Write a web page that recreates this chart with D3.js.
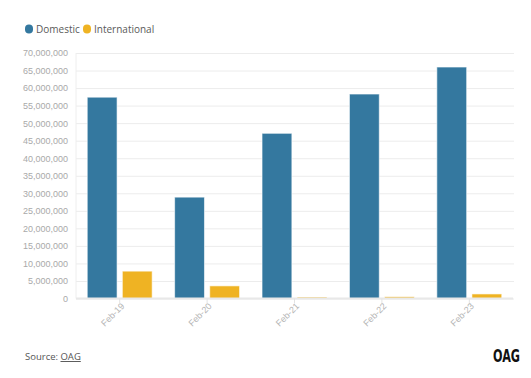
<!DOCTYPE html>
<html lang="en">
<head>
<meta charset="UTF-8">
<title>Passengers</title>
<script src="https://cdn.jsdelivr.net/npm/d3@7"></script>
<style>
    body{ margin:0; background:#fff; }
    svg{ display:block; font-family:"Open Sans", "Noto Sans", sans-serif; }
</style>
</head>
<body>
<div id="root"></div>
<script>
    // data
    let months = ["Feb-19","Feb-20","Feb-21","Feb-22","Feb-23"]
    let series = ["Domestic","International"]
    let domestic = [57400000, 28900000, 47100000, 58300000, 66000000]
    let international = [7800000, 3600000, 400000, 500000, 1300000]
    let yTicks = d3.range(0, 70000001, 5000000)
    let colors = ["#34789f", "#efb323"]

    let width = 531, height = 378
    let plotLeft = 76, plotRight = 513, plotTop = 53, plotBottom = 298.5

    let svg = d3.select("#root").append("svg").attr("width", width).attr("height", height)

    let y = d3.scaleLinear().domain([0, 70000000]).range([plotBottom, plotTop])
    let x0 = d3.scaleBand().domain(months).range([plotLeft, plotRight]).padding(0)
    let x1 = d3.scaleBand().domain(series).range([0, x0.bandwidth()]).paddingInner(0.15).paddingOuter(0.32)

    // grid + y axis
    let yAxis = d3.axisLeft(y).tickValues(yTicks).tickFormat(d3.format(",")).tickSize(-(plotRight - plotLeft) - 4).tickPadding(5)
    let gy = svg.append("g").attr("transform", "translate(" + (plotLeft - 3) + ",0)").call(yAxis)
    gy.select(".domain").remove()
    gy.selectAll(".tick line").attr("stroke", "#ececec").attr("x1", 3)
    gy.selectAll(".tick text").attr("fill", "#a9a9a9").style("font-size", "9px").attr("x", -5)

    svg.append("line").attr("x1", plotLeft).attr("x2", plotLeft).attr("y1", plotTop).attr("y2", plotBottom)
        .attr("stroke", "#eeeeee")

    // bars
    let rows = months.map((m, i) => ({ month: m, values: [domestic[i], international[i]] }))
    let groups = svg.selectAll(".grp").data(rows).enter().append("g")
        .attr("transform", d => "translate(" + x0(d.month) + ",0)")
    groups.selectAll("rect").data(d => d.values.map((v, j) => ({ key: series[j], v: v, j: j })))
        .enter().append("rect")
        .attr("x", d => x1(d.key))
        .attr("width", x1.bandwidth())
        .attr("y", d => y(d.v))
        .attr("height", d => plotBottom - y(d.v))
        .attr("fill", d => colors[d.j])
        .attr("stroke", "rgba(255,255,255,0.6)")
        .attr("stroke-width", 1)

    // x axis
    let xAxis = d3.axisBottom(x0).tickSize(5).tickPadding(4)
    let gx = svg.append("g").attr("transform", "translate(0," + plotBottom + ")").call(xAxis)
    gx.select(".domain").attr("stroke", "#e8e8e8").attr("stroke-width", 2).attr("d", "M" + plotLeft + ",0H" + plotRight)
    gx.selectAll(".tick line").attr("stroke", "#e3e3e3")
    gx.selectAll(".tick text")
        .attr("fill", "#b5b5b5").style("font-size", "9px")
        .attr("text-anchor", "end")
        .attr("dy", "0.35em")
        .attr("transform", "translate(3,6) rotate(-45)")
        .attr("y", 0).attr("x", 0)

    // legend
    let legend = svg.append("g").attr("transform", "translate(25,29)")
    let lx = [0, 58]
    series.forEach((s, i) => {
        let g = legend.append("g").attr("transform", "translate(" + lx[i] + ",0)")
        g.append("rect").attr("x", 0).attr("y", -4.5).attr("width", 8).attr("height", 9)
            .attr("rx", 4).attr("fill", colors[i])
        g.append("text").attr("x", 11).attr("y", 0).attr("dy", "0.35em")
            .style("font-size", "10px").attr("fill", "#5a5a5a").text(s)
    })

    // footer
    let src = svg.append("text").attr("x", 25).attr("y", 360)
        .style("font-size", "9.5px").attr("fill", "#555")
    src.append("tspan").text("Source: ")
    src.append("tspan").style("text-decoration", "underline").text("OAG")

    svg.append("text").attr("x", 520).attr("y", 362).attr("text-anchor", "end")
        .style("font-family", "'Liberation Sans Narrow', 'DejaVu Sans Condensed', sans-serif")
        .style("font-weight", "bold").style("font-size", "18px").attr("fill", "#111")
        .attr("textLength", 27).attr("lengthAdjust", "spacingAndGlyphs")
        .text("OAG")
</script>
</body>
</html>
